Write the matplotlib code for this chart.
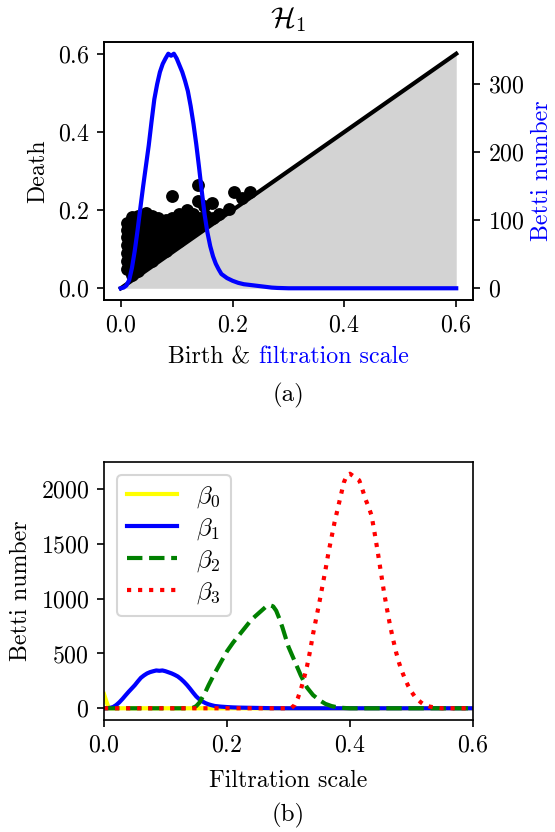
import matplotlib
matplotlib.use("Agg")
import matplotlib.pyplot as plt
import numpy as np

plt.rcParams['font.family'] = 'serif'
plt.rcParams['font.serif'] = ['cmr10']
plt.rcParams['mathtext.fontset'] = 'cm'
plt.rcParams['axes.formatter.use_mathtext'] = True
plt.rcParams['font.size'] = 11.5

# ---------------- data ----------------
# persistence diagram H1 (birth, death)
pd_birth = [
    0.012, 0.012, 0.012, 0.012, 0.012, 0.012, 0.012,
    0.020, 0.020, 0.020, 0.020, 0.020, 0.020, 0.020, 0.020,
    0.030, 0.030, 0.030, 0.030, 0.030, 0.030, 0.030, 0.030,
    0.042, 0.042, 0.042, 0.042, 0.042, 0.042, 0.042,
    0.055, 0.055, 0.055, 0.055, 0.055, 0.055, 0.055,
    0.067, 0.067, 0.067, 0.067, 0.067, 0.067,
    0.080, 0.080, 0.080, 0.080, 0.080,
    0.092, 0.092, 0.092, 0.092, 0.092,
    0.105, 0.105, 0.105, 0.105, 0.105,
    0.118, 0.118, 0.118, 0.118,
    0.130, 0.130, 0.130,
    0.142, 0.142, 0.150, 0.152, 0.165, 0.175,
    0.092, 0.139, 0.139, 0.163, 0.202, 0.232, 0.193, 0.217, 0.045, 0.149,
]
pd_death = [
    0.050, 0.070, 0.090, 0.110, 0.130, 0.150, 0.168,
    0.035, 0.060, 0.080, 0.100, 0.120, 0.140, 0.160, 0.182,
    0.045, 0.065, 0.085, 0.105, 0.125, 0.145, 0.165, 0.185,
    0.060, 0.080, 0.100, 0.120, 0.140, 0.160, 0.180,
    0.070, 0.090, 0.110, 0.130, 0.150, 0.170, 0.186,
    0.085, 0.105, 0.125, 0.145, 0.165, 0.180,
    0.095, 0.115, 0.135, 0.155, 0.175,
    0.110, 0.130, 0.150, 0.168, 0.180,
    0.120, 0.140, 0.160, 0.178, 0.190,
    0.135, 0.155, 0.175, 0.200,
    0.150, 0.168, 0.190,
    0.160, 0.180, 0.172, 0.185, 0.180, 0.190,
    0.235, 0.264, 0.222, 0.218, 0.247, 0.247, 0.203, 0.231, 0.192, 0.210,
]
diag = [0.0, 0.6]

# Betti curves
b0_x = [0.0, 0.004, 0.008, 0.6]
b0_y = [130, 60, 0, 0]

b1_x = [0.0, 0.005, 0.01, 0.015, 0.02, 0.025, 0.03, 0.035, 0.04, 0.045, 0.05,
        0.055, 0.06, 0.065, 0.07, 0.075, 0.08, 0.085, 0.09, 0.095, 0.1, 0.105,
        0.11, 0.115, 0.12, 0.125, 0.13, 0.135, 0.14, 0.145, 0.15, 0.155, 0.16,
        0.165, 0.17, 0.175, 0.18, 0.19, 0.2, 0.21, 0.22, 0.23, 0.24, 0.25,
        0.26, 0.27, 0.28, 0.3, 0.6]
b1_y = [0, 1, 4, 12, 30, 55, 85, 118, 150, 180, 210,
        245, 278, 300, 318, 330, 338, 345, 342, 345, 338, 328,
        318, 305, 290, 268, 242, 212, 178, 142, 108, 82, 62,
        47, 36, 28, 21, 15, 11, 8, 6, 5, 4, 3,
        2, 1, 0.5, 0, 0]

b2_x = [0.0, 0.14, 0.145, 0.15, 0.155, 0.16, 0.165, 0.17, 0.175, 0.18, 0.19,
        0.2, 0.21, 0.22, 0.23, 0.24, 0.25, 0.26, 0.265, 0.27, 0.275, 0.28,
        0.285, 0.29, 0.295, 0.3, 0.31, 0.32, 0.33, 0.34, 0.35, 0.36, 0.37,
        0.38, 0.39, 0.4, 0.6]
b2_y = [0, 0, 5, 20, 50, 100, 150, 210, 265, 320, 420,
        520, 600, 670, 740, 810, 860, 910, 935, 940, 930, 890,
        820, 740, 650, 560, 430, 300, 190, 120, 75, 40, 20,
        8, 3, 0, 0]

b3_x = [0.0, 0.3, 0.305, 0.31, 0.315, 0.32, 0.325, 0.33, 0.335, 0.34, 0.345,
        0.35, 0.355, 0.36, 0.365, 0.37, 0.375, 0.38, 0.385, 0.39, 0.395, 0.4,
        0.405, 0.41, 0.415, 0.42, 0.425, 0.43, 0.435, 0.44, 0.445, 0.45, 0.455,
        0.46, 0.465, 0.47, 0.475, 0.48, 0.485, 0.49, 0.495, 0.5, 0.505, 0.51,
        0.515, 0.52, 0.53, 0.54, 0.55, 0.6]
b3_y = [0, 0, 5, 30, 90, 170, 270, 380, 520, 680, 820,
        960, 1110, 1260, 1420, 1560, 1700, 1820, 1940, 2060, 2130, 2140,
        2120, 2100, 2080, 2000, 1910, 1840, 1760, 1600, 1430, 1250, 1070,
        910, 760, 630, 510, 410, 330, 260, 200, 150, 110, 80,
        55, 35, 15, 5, 0, 0]

x_ticks = [0.0, 0.2, 0.4, 0.6]
top_yticks = [0.0, 0.2, 0.4, 0.6]
twin_yticks = [0, 100, 200, 300]
bot_yticks = [0, 500, 1000, 1500, 2000]

# ---------------- figure ----------------
W, H, DPI = 555, 832, 150
fig = plt.figure(figsize=(W / DPI, H / DPI), dpi=DPI)

def pos(l, t, r, b):
    return [l / W, 1 - b / H, (r - l) / W, (b - t) / H]

ax1 = fig.add_axes(pos(104, 42, 473, 300))
ax1.fill_between(diag, [0, 0], diag, color='lightgray', lw=0, zorder=1)
ax1.plot(diag, diag, color='black', lw=2, zorder=2)
ax1.scatter(pd_birth, pd_death, s=38, color='black', zorder=3, linewidths=0)
ax1.set_xlim(-0.03, 0.63)
ax1.set_ylim(-0.03, 0.63)
ax1.set_xticks(x_ticks)
ax1.set_yticks(top_yticks)
ax1.set_ylabel('Death')
ax1.set_title(r'$\mathcal{H}_1$', fontsize=14, pad=7)

ax1b = ax1.twinx()
ax1b.plot(b1_x, b1_y, color='blue', lw=2)
ax1b.set_ylim(-17.25, 362.25)
ax1b.set_yticks(twin_yticks)
ax1b.set_ylabel('Betti number', color='blue', labelpad=3)

ax2 = fig.add_axes(pos(104, 462, 473, 720))
ax2.plot(b0_x, b0_y, color='yellow', lw=2, ls='-', label=r'$\beta_0$')
ax2.plot(b1_x, b1_y, color='blue', lw=2, ls='-', label=r'$\beta_1$')
ax2.plot(b2_x, b2_y, color='green', lw=2, ls='--', label=r'$\beta_2$')
ax2.plot(b3_x, b3_y, color='red', lw=2, ls=':', label=r'$\beta_3$')
ax2.set_xlim(0, 0.6)
ax2.set_ylim(-107, 2247)
ax2.set_xticks(x_ticks)
ax2.set_yticks(bot_yticks)
ax2.set_ylabel('Betti number')
ax2.set_xlabel('Filtration scale', labelpad=6.5)
ax2.legend(loc='upper left', fontsize=12, labelspacing=0.25)

# two-colour x label for top panel
fig.canvas.draw()
r = fig.canvas.get_renderer()
ylab = 1 - 357 / H
t1 = fig.text(0, ylab, 'Birth & ', color='black', va='center', ha='left')
t2 = fig.text(0, ylab, 'filtration scale', color='blue', va='center', ha='left')
w1 = t1.get_window_extent(r).width
w2 = t2.get_window_extent(r).width
cx = (104 + 473) / 2
x0 = cx - (w1 + w2) / 2
t1.set_x(x0 / W)
t2.set_x((x0 + w1) / W)

fig.text(cx / W, 1 - 395 / H, '(a)', ha='center', va='center', fontsize=12)
fig.text(cx / W, 1 - 815 / H, '(b)', ha='center', va='center', fontsize=12)

fig.savefig('out.png', dpi=DPI)
